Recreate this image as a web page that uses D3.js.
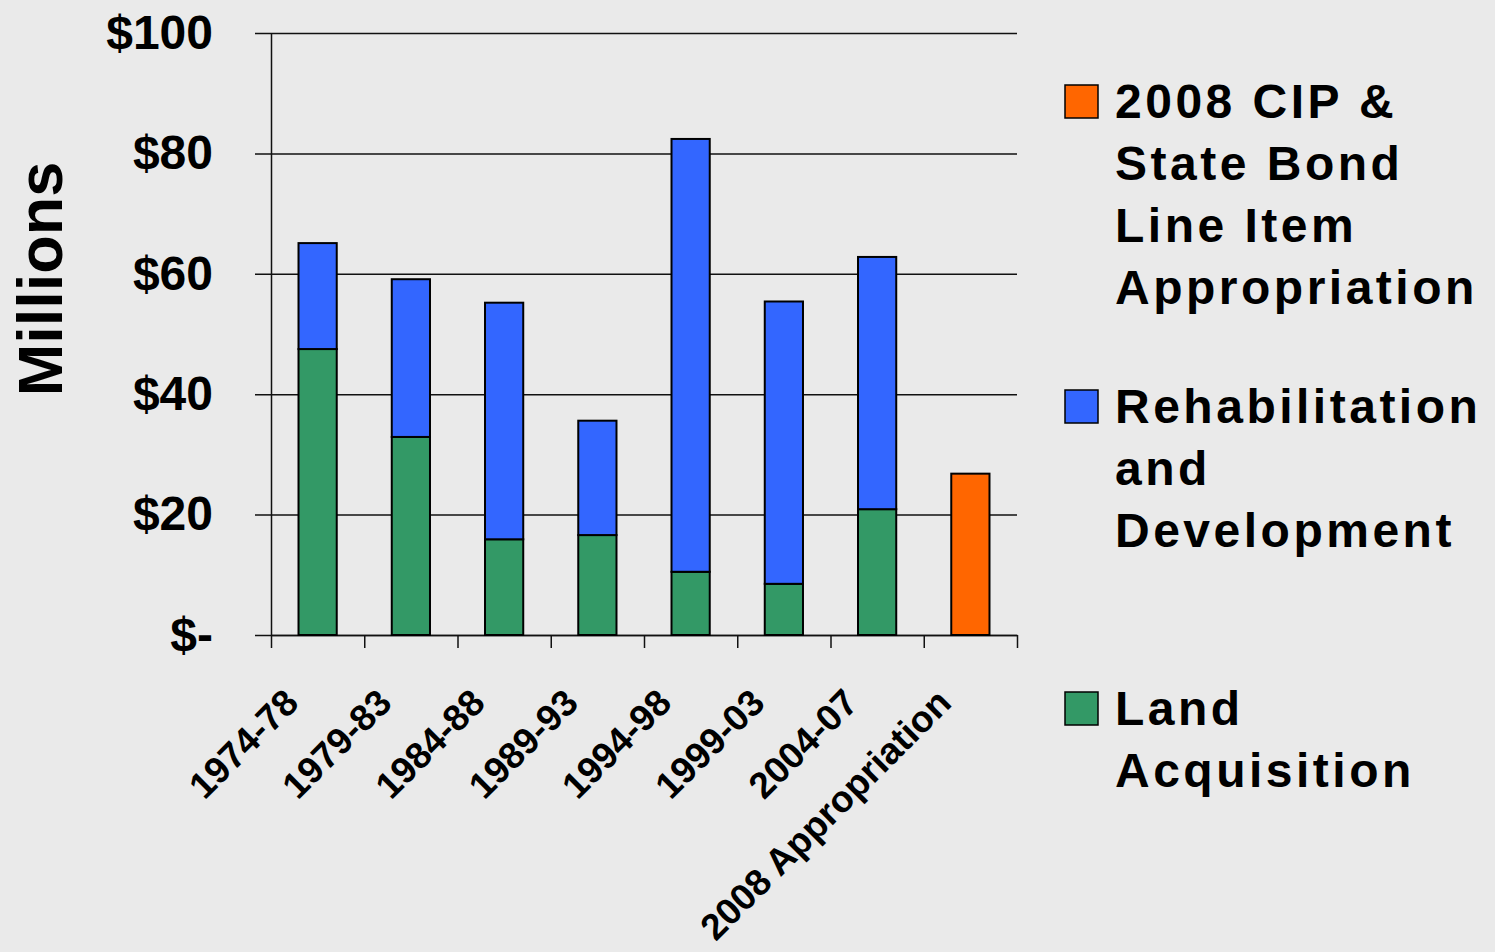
<!DOCTYPE html>
<html>
<head>
<meta charset="UTF-8">
<title>Funding by period</title>
<script src="https://d3js.org/d3.v7.min.js"></script>
<style>
  html, body { margin: 0; padding: 0; background: #eaeaea; }
  svg { display: block; font-family: "Liberation Sans", Arial, sans-serif; font-weight: bold; }
</style>
</head>
<body>
<div id="chart"></div>
<script>
// data (millions of dollars)
var periods = ['1974-78', '1979-83', '1984-88', '1989-93', '1994-98', '1999-03', '2004-07', '2008 Appropriation'];
var landAcquisition = [47.5, 32.9, 15.9, 16.6, 10.5, 8.5, 20.9, 0];
var rehabDevelopment = [17.6, 26.2, 39.3, 19.0, 71.9, 46.9, 41.9, 0];
var cipAppropriation = [0, 0, 0, 0, 0, 0, 0, 26.8];
var yTicks = [0, 20, 40, 60, 80, 100];

var seriesKeys = ['land', 'rehab', 'cip'];
var colors = {land: '#339966', rehab: '#3366ff', cip: '#ff6600'};
var legendItems = [
    {key: 'cip', lines: ['2008 CIP &', 'State Bond', 'Line Item', 'Appropriation'], y: 118},
    {key: 'rehab', lines: ['Rehabilitation', 'and', 'Development'], y: 423},
    {key: 'land', lines: ['Land', 'Acquisition'], y: 725}
];

var W = 1495, H = 952;
var plot = {left: 271, right: 1017, top: 33, bottom: 635};

var rows = periods.map(function(p, i) {
    return {period: p, land: landAcquisition[i], rehab: rehabDevelopment[i], cip: cipAppropriation[i]};
});

var svg = d3.select('#chart').append('svg')
    .attr('width', W)
    .attr('height', H);

svg.append('rect').attr('width', W).attr('height', H).attr('fill', '#eaeaea');

var x = d3.scaleBand()
    .domain(periods)
    .range([plot.left, plot.right])
    .paddingInner(0.59)
    .paddingOuter(0.295);

var y = d3.scaleLinear()
    .domain([0, 100])
    .range([plot.bottom, plot.top]);

// gridlines + y labels
var grid = svg.append('g')
    .attr('transform', 'translate(' + plot.right + ',0)')
    .call(d3.axisLeft(y)
        .tickValues(yTicks)
        .tickSize(plot.right - 255)
        .tickPadding(42)
        .tickFormat(function(d) { return d === 0 ? '$-' : '$' + d; }));
grid.select('.domain').remove();
grid.selectAll('.tick line').attr('stroke', '#111').attr('stroke-width', 1.5);
grid.selectAll('.tick text')
    .attr('fill', '#000')
    .style('font-size', '48px')
    .style('font-family', '"Liberation Sans", Arial, sans-serif')
    .style('font-weight', 'bold');

// vertical axis line
var yAxis = svg.append('g')
    .attr('transform', 'translate(' + plot.left + ',0)')
    .call(d3.axisLeft(y).tickValues([]).tickSizeOuter(0));
yAxis.select('.domain').attr('stroke', '#111').attr('stroke-width', 1.5);

// x axis with ticks at category boundaries
var xb = d3.scaleLinear().domain([0, periods.length]).range([plot.left, plot.right]);
var xAxis = svg.append('g')
    .attr('transform', 'translate(0,' + plot.bottom + ')')
    .call(d3.axisBottom(xb).ticks(periods.length).tickSize(13).tickSizeOuter(0).tickFormat(''));
xAxis.select('.domain').attr('stroke', '#111').attr('stroke-width', 1.5);
xAxis.selectAll('.tick line').attr('stroke', '#111').attr('stroke-width', 1.5);

// stacked bars
var stacked = d3.stack().keys(seriesKeys)(rows);
svg.append('g').selectAll('g')
    .data(stacked)
    .join('g')
    .attr('fill', function(s) { return colors[s.key]; })
    .selectAll('rect')
    .data(function(s) { return s.filter(function(d) { return d[1] - d[0] > 0; }); })
    .join('rect')
    .attr('x', function(d) { return x(d.data.period); })
    .attr('y', function(d) { return y(d[1]); })
    .attr('width', x.bandwidth())
    .attr('height', function(d) { return y(d[0]) - y(d[1]); })
    .attr('stroke', '#000')
    .attr('stroke-width', 2);

// category labels, rotated 45 degrees
svg.append('g').selectAll('text')
    .data(periods)
    .join('text')
    .attr('transform', function(d) { return 'translate(' + (x(d) + x.bandwidth() / 2 - 36) + ',686) rotate(-45)'; })
    .attr('text-anchor', 'end')
    .attr('dy', '0.72em')
    .style('font-size', '37px')
    .text(function(d) { return d; });

// y title
svg.append('text')
    .attr('transform', 'translate(62,279) rotate(-90)')
    .attr('text-anchor', 'middle')
    .style('font-size', '63px')
    .text('Millions');

// legend
var legend = svg.append('g').selectAll('g')
    .data(legendItems)
    .join('g');
legend.append('rect')
    .attr('x', 1065)
    .attr('y', function(d) { return d.y - 33; })
    .attr('width', 33)
    .attr('height', 33)
    .attr('fill', function(d) { return colors[d.key]; })
    .attr('stroke', '#000')
    .attr('stroke-width', 1.5);
legend.append('text')
    .style('font-size', '48px')
    .style('letter-spacing', '3.5px')
    .selectAll('tspan')
    .data(function(d) { return d.lines.map(function(l, i) { return {t: l, y: d.y + i * 62}; }); })
    .join('tspan')
    .attr('x', 1115)
    .attr('y', function(d) { return d.y; })
    .text(function(d) { return d.t; });
</script>
</body>
</html>
